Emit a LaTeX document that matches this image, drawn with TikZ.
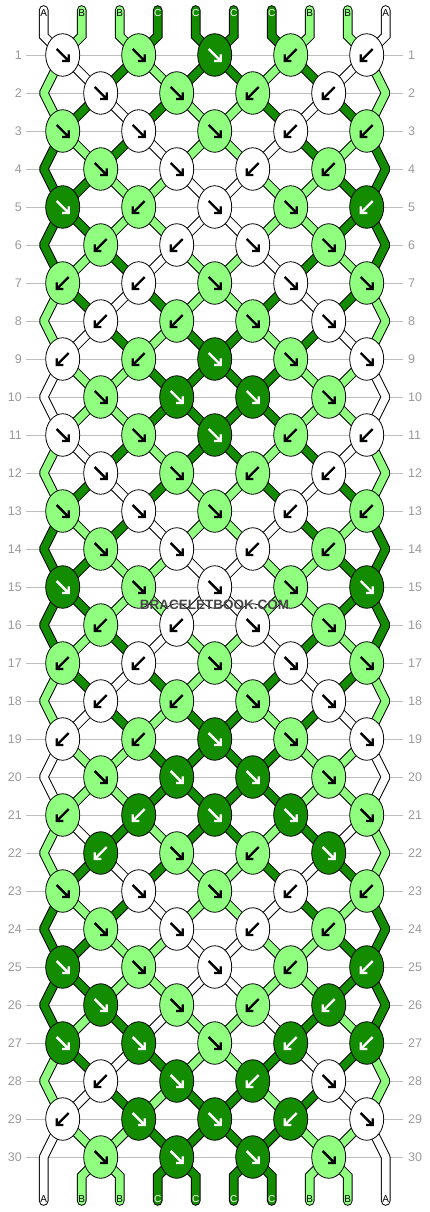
\documentclass[tikz,border=0pt]{standalone}
\usepackage{fontspec}
\setmainfont{Liberation Sans}
\usetikzlibrary{shapes.geometric}

\definecolor{strA}{RGB}{255,255,255}
\definecolor{strB}{RGB}{144,255,128}
\definecolor{strC}{RGB}{20,140,0}
\colorlet{txtA}{black}
\colorlet{txtB}{black}
\colorlet{txtC}{white}
\definecolor{rowgrey}{RGB}{190,190,190}
\definecolor{numgrey}{RGB}{155,155,155}
\definecolor{markgrey}{RGB}{70,70,70}

\pgfdeclarelayer{bg}
\pgfdeclarelayer{strands}
\pgfsetlayers{bg,strands,main}

% order of the strings after a row
\def\Pa{A,B,B,C,C,C,C,B,B,A}
\def\Pb{B,A,C,B,C,C,B,C,A,B}
\def\Pc{B,C,A,C,B,B,C,A,C,B}
\def\Pd{C,B,C,A,B,B,A,C,B,C}
\def\Pe{C,C,B,B,A,A,B,B,C,C}

\tikzset{
  knot/.style={ellipse, draw=black, line width=0.8pt, fill=#1, minimum width=34pt, minimum height=42.5pt, inner sep=0pt},
  strand/.style={draw=black, line width=9.6pt, postaction={draw=#1, line width=7.6pt}},
  knotarrow/.style={draw=#1, line width=2.4pt},
  rowline/.style={draw=rowgrey, line width=0.9pt},
  rownum/.style={text=numgrey, font=\fontsize{12.5}{14}\selectfont, inner sep=2pt},
  strlabel/.style={font=\fontsize{10}{11}\selectfont, inner sep=0pt}
}

\begin{document}
\begin{tikzpicture}[x=1pt, y=-1pt]
\useasboundingbox (0,0) rectangle (430,1212);

\begin{pgfonlayer}{bg}
  \fill[white] (0,0) rectangle (430,1212);
  \foreach \row in {1,...,30} {
    \node[rownum, anchor=east] (ln\row) at (24,{17+38*\row}) {\row};
    \node[rownum, anchor=west] (rn\row) at (406,{17+38*\row}) {\row};
    \draw[rowline, shorten <=2pt, shorten >=3pt] (ln\row) -- (rn\row);
  }
\end{pgfonlayer}

% string ends
\foreach \col [count=\pos] in \Pa {
  \coordinate (t\pos) at ({5.7+38*\pos}, 10);
  \coordinate (tb\pos) at ({5.7+38*\pos}, 36);
  \coordinate (bb\pos) at ({5.7+38*\pos}, 1176);
  \coordinate (b\pos) at ({5.7+38*\pos}, 1201);
  \node[strlabel, text=txt\col] (lt\pos) at ({5.7+38*\pos}, 13) {\col};
  \node[strlabel, text=txt\col] (lb\pos) at ({5.7+38*\pos}, 1199) {\col};
}

% edge points of the even rows
\foreach \row in {2,4,...,30} {
  \coordinate (k\row-1) at (43.7,{17+38*\row});
  \coordinate (k\row-10) at (385.7,{17+38*\row});
}

% knots: colour/direction
\foreach \row/\knots in {
  1/{A/1,B/1,C/1,B/-1,A/-1}, 2/{A/1,B/1,B/-1,A/-1},
  3/{B/1,A/1,B/1,A/-1,B/-1}, 4/{B/1,A/1,A/-1,B/-1},
  5/{C/1,B/-1,A/1,B/1,C/-1}, 6/{B/-1,A/-1,A/1,B/1},
  7/{B/-1,A/-1,B/1,A/1,B/1}, 8/{A/-1,B/-1,B/1,A/1},
  9/{A/-1,B/-1,C/1,B/1,A/1}, 10/{B/1,C/1,C/1,B/1},
  11/{A/1,B/1,C/1,B/-1,A/-1}, 12/{A/1,B/1,B/-1,A/-1},
  13/{B/1,A/1,B/1,A/-1,B/-1}, 14/{B/1,A/1,A/-1,B/-1},
  15/{C/1,B/1,A/1,B/1,C/1}, 16/{B/-1,A/-1,A/1,B/1},
  17/{B/-1,A/-1,B/1,A/1,B/1}, 18/{A/-1,B/-1,B/1,A/1},
  19/{A/-1,B/-1,C/1,B/1,A/1}, 20/{B/1,C/1,C/1,B/1},
  21/{B/-1,C/-1,C/1,C/1,B/1}, 22/{C/-1,B/1,B/-1,C/1},
  23/{B/1,A/1,B/1,A/-1,B/-1}, 24/{B/1,A/1,A/-1,B/-1},
  25/{C/1,B/1,A/1,B/-1,C/-1}, 26/{C/1,B/1,B/-1,C/-1},
  27/{C/1,C/1,B/1,C/-1,C/-1}, 28/{A/-1,C/1,C/-1,A/1},
  29/{A/-1,C/1,C/1,C/-1,A/1}, 30/{B/1,C/1,C/1,B/1}} {
  \foreach \col/\dir [count=\idx] in \knots {
    \pgfmathtruncatemacro\pos{2*\idx-mod(\row,2)}
    \pgfmathtruncatemacro\nxt{\pos+1}
    \node[knot=str\col, alias=k\row-\nxt] (k\row-\pos) at ({24.7+38*\pos}, {17+38*\row}) {};
    \draw[knotarrow=txt\col, shift={(k\row-\pos.center)}, xscale=\dir]
      (-6,-6) -- (6,6) (-0.6,6) -- (6,6) -- (6,-0.6);
  }
}

\begin{pgfonlayer}{strands}
  \foreach \col [count=\pos] in \Pa
    \draw[strand=str\col, line cap=round] (t\pos) -- (tb\pos) -- (k1-\pos.center);
  \foreach \col/\pos in {B/2,B/3,C/4,C/5,C/6,C/7,B/8,B/9}
    \draw[strand=str\col, line cap=round] (k30-\pos.center) -- (bb\pos) -- (b\pos);
  \foreach \pos in {1,10}
    \draw[strand=strA, line cap=round, line join=bevel] (k29-\pos.center) -- (k30-\pos.center) -- (b\pos);

  % between the rows
  \foreach \row/\state in {1/\Pb,2/\Pc,3/\Pd,4/\Pe,5/\Pe,6/\Pd,7/\Pc,8/\Pb,9/\Pa,10/\Pa,
      11/\Pb,12/\Pc,13/\Pd,14/\Pe,15/\Pe,16/\Pd,17/\Pc,18/\Pb,19/\Pa,20/\Pa,
      21/\Pb,22/\Pc,23/\Pd,24/\Pe,25/\Pe,26/\Pd,27/\Pc,28/\Pb,29/\Pa} {
    \pgfmathtruncatemacro\rowdn{\row+1}
    \edef\lst{\state}
    \foreach \col [count=\pos] in \lst {
      \ifnum\pos>1 \ifnum\pos<10
        \draw[strand=str\col] (k\row-\pos.center) -- (k\rowdn-\pos.center);
      \fi\fi
    }
  }

  % outer strings
  \foreach \row/\col in {2/B,4/C,6/C,8/B,10/A,12/B,14/C,16/C,18/B,20/A,22/B,24/C,26/C,28/B} {
    \pgfmathtruncatemacro\rowup{\row-1}
    \pgfmathtruncatemacro\rowdn{\row+1}
    \foreach \pos in {1,10}
      \draw[strand=str\col, line join=bevel] (k\rowup-\pos.center) -- (k\row-\pos.center) -- (k\rowdn-\pos.center);
  }
\end{pgfonlayer}

\node[text=markgrey, font=\bfseries\fontsize{13.5}{15}\selectfont] (mark) at (214.5,605) {BRACELETBOOK.COM};
\end{tikzpicture}
\end{document}
